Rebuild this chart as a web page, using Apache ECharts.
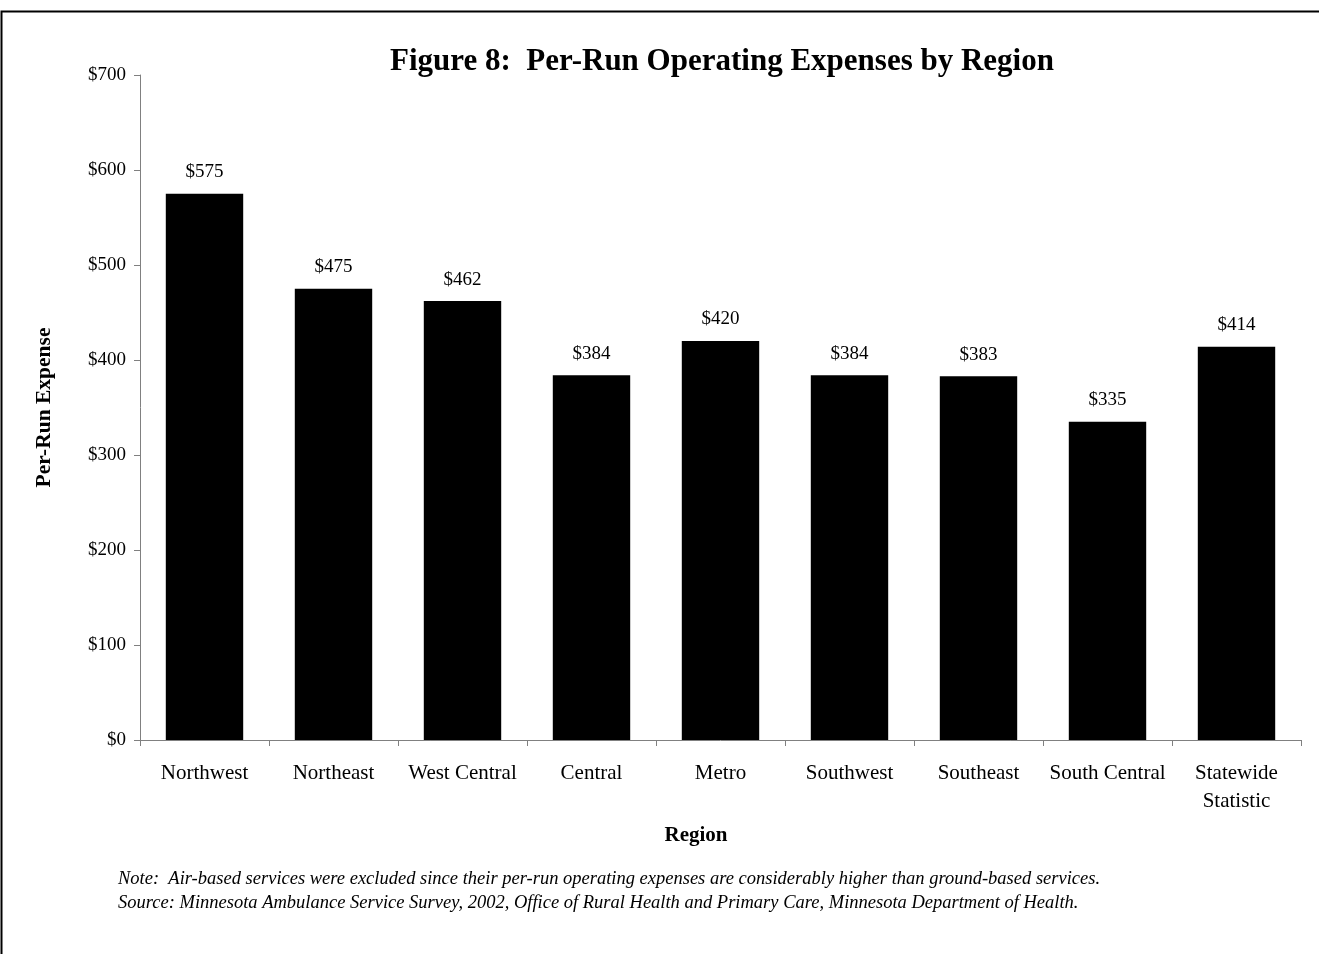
<!DOCTYPE html>
<html>
<head>
<meta charset="utf-8">
<script src="https://cdn.jsdelivr.net/npm/echarts@6/dist/echarts.min.js"></script>
<style>
  html, body { margin: 0; padding: 0; background: #fff; }
  #chart { width: 1319px; height: 954px; }
</style>
</head>
<body>
<div id="chart"></div>
<script>
// Per-run operating expenses by ambulance region (dollars)
const regions = ['Northwest', 'Northeast', 'West Central', 'Central', 'Metro',
                 'Southwest', 'Southeast', 'South Central', 'Statewide\nStatistic'];
const perRunExpense = [575, 475, 462, 384, 420, 384, 383, 335, 414];
const yTicks = { min: 0, max: 700, step: 100 };

const titleText = 'Figure 8:  Per-Run Operating Expenses by Region';
const xAxisTitle = 'Region';
const yAxisTitle = 'Per-Run Expense';
const noteLines = [
  'Note:  Air-based services were excluded since their per-run operating expenses are considerably higher than ground-based services.',
  'Source: Minnesota Ambulance Service Survey, 2002, Office of Rural Health and Primary Care, Minnesota Department of Health.'
];

const serif = '"Liberation Serif", "Times New Roman", serif';
const chart = echarts.init(document.getElementById('chart'), null, { renderer: 'canvas' });

chart.setOption({
  backgroundColor: '#ffffff',
  animation: false,
  title: {
    text: titleText,
    left: 717, top: 41, textAlign: 'center',
    textStyle: { fontFamily: serif, fontSize: 31, fontWeight: 'bold', color: '#000' }
  },
  grid: { left: 140, right: 18, top: 75, bottom: 214, containLabel: false },
  xAxis: {
    type: 'category',
    data: regions,
    axisLine: { lineStyle: { color: '#808080', width: 1 } },
    axisTick: { show: true, length: 6, lineStyle: { color: '#808080' } },
    axisLabel: {
      fontFamily: serif, fontSize: 21, color: '#000', margin: 19,
      lineHeight: 28, interval: 0
    }
  },
  yAxis: {
    type: 'value',
    min: yTicks.min, max: yTicks.max, interval: yTicks.step,
    name: yAxisTitle,
    nameLocation: 'middle',
    nameGap: 85,
    nameRotate: 90,
    nameTextStyle: { fontFamily: serif, fontSize: 21.5, fontWeight: 'bold', color: '#000' },
    axisLine: { show: true, lineStyle: { color: '#808080', width: 1 } },
    axisTick: { show: true, length: 6, lineStyle: { color: '#808080' } },
    splitLine: { show: false },
    axisLabel: {
      fontFamily: serif, fontSize: 19, color: '#000', margin: 14,
      formatter: v => '$' + v
    }
  },
  series: [{
    type: 'bar',
    data: perRunExpense,
    barCategoryGap: '40%',
    itemStyle: { color: '#000' },
    label: {
      show: true, position: 'top', distance: 12,
      fontFamily: serif, fontSize: 19, color: '#000',
      formatter: p => '$' + p.value
    }
  }],
  graphic: [
    {
      type: 'rect', silent: true,
      shape: { x: 1.5, y: 11.5, width: 1400, height: 1000 },
      style: { fill: null, stroke: '#000', lineWidth: 2 }
    },
    {
      type: 'text', x: 696, y: 836, silent: true,
      style: {
        text: xAxisTitle, align: 'center', verticalAlign: 'middle',
        font: 'bold 21px ' + serif, fill: '#000'
      }
    },
    {
      type: 'text', left: 118, top: 867, silent: true,
      style: {
        text: noteLines.join('\n'), lineHeight: 24,
        font: 'italic 18.5px ' + serif, fill: '#000'
      }
    }
  ]
});
</script>
</body>
</html>
